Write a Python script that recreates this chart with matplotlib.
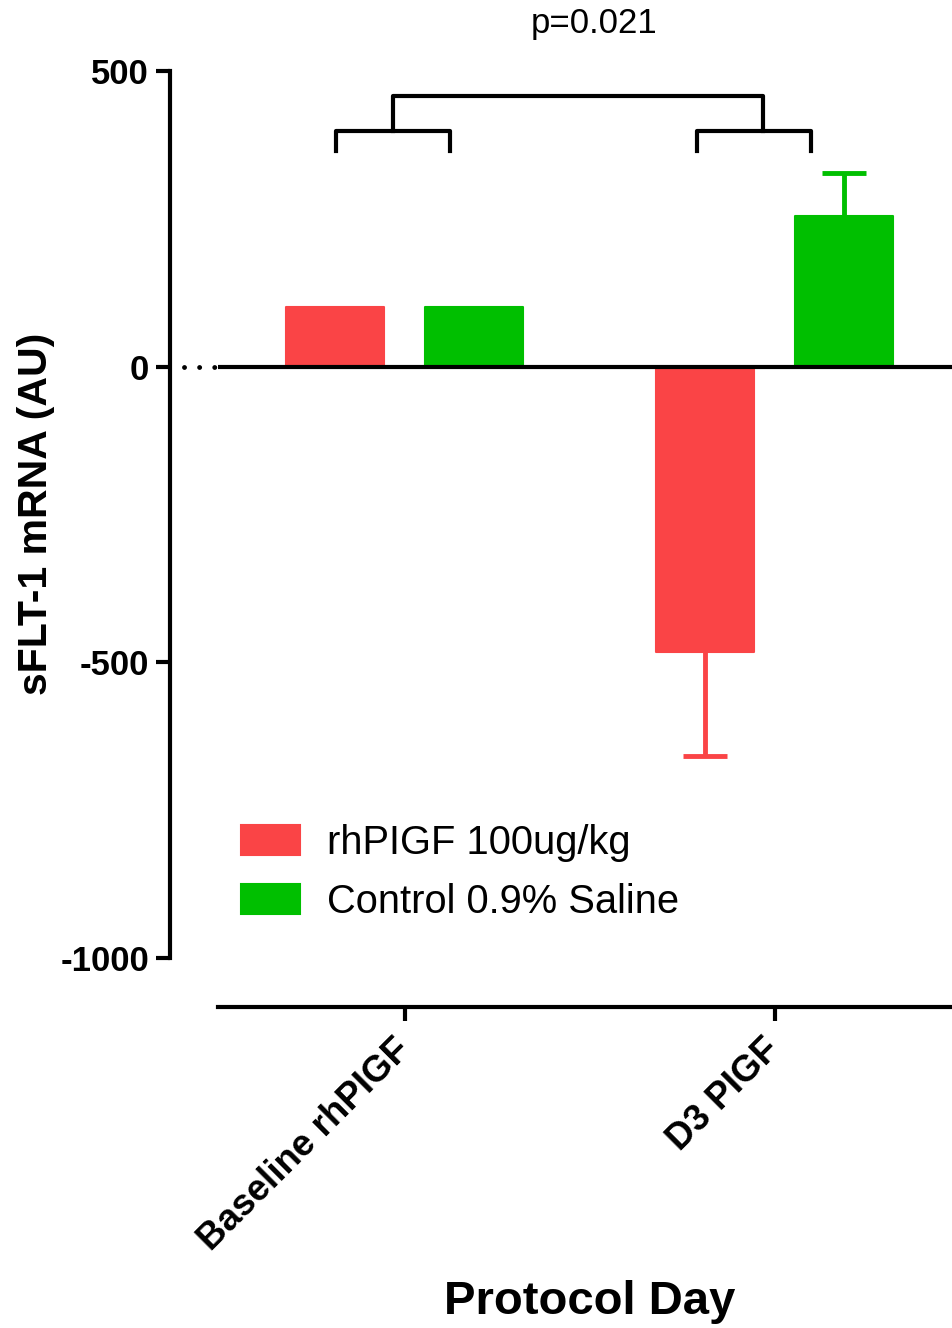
import matplotlib
matplotlib.use("Agg")
import matplotlib.pyplot as plt
import numpy as np

plt.rcParams["font.family"] = ["Liberation Sans", "DejaVu Sans"]

# Datos
dias = ["Baseline rhPIGF", "D3 PIGF"]
grupos = ["rhPIGF 100ug/kg", "Control 0.9% Saline"]
media_rhpigf = [100, -482]
media_control = [100, 255]
error_rhpigf = [0, 176]
error_control = [0, 73]
colores = ["#FA4446", "#00BF00"]

# Corchetes de comparacion (extremos en x, altura)
corchetes_bajos = [(-0.185, 0.123), (0.791, 1.098)]
altura_baja = 399
pata_baja = 364
altura_alta = 458
texto_p = "p=0.021"

fig = plt.figure(figsize=(9.53, 13.28), dpi=100)
ax = fig.add_axes([170 / 953, 1 - 1007 / 1328, 783 / 953, 1007 / 1328])
ax.set_xlim(-0.634, 1.482)
ax.set_ylim(-1083, 620)

x = np.arange(len(dias))
ancho = 0.265
desplazamiento = 0.188

barras = []
for i, (medias, errores) in enumerate([(media_rhpigf, error_rhpigf), (media_control, error_control)]):
    pos = x + (2 * i - 1) * desplazamiento
    b = ax.bar(pos, medias, width=ancho, color=colores[i], edgecolor=colores[i],
               linewidth=1.5, joinstyle="round", label=grupos[i], zorder=2)
    barras.append(b)
    for p, m, e in zip(pos, medias, errores):
        if e <= 0:
            continue
        _, tapas, _ = ax.errorbar([p], [m], yerr=[[e], [e]], fmt="none", ecolor=colores[i],
                                  elinewidth=3.5, capsize=15.5, capthick=3.5, zorder=1)
        # solo se ve el lado de la barra que sale hacia fuera
        tapas[1 if m < 0 else 0].set_visible(False)

# Linea del cero con puntos al inicio
ax.plot([-0.504, 1.482], [0, 0], color="black", lw=3, zorder=3, solid_capstyle="butt")
ax.plot([-0.595, -0.51], [0, 0], color="black", lw=3.5, zorder=3,
        linestyle=(0, (0.01, 3.1)), dash_capstyle="round")

# Corchetes
lw_c = 3
for (a, b) in corchetes_bajos:
    ax.plot([a, a, b, b], [pata_baja, altura_baja, altura_baja, pata_baja],
            color="black", lw=lw_c, solid_joinstyle="round", clip_on=False)
centros = [(a + b) / 2 for a, b in corchetes_bajos]
centros[1] = 0.969
ax.plot([centros[0], centros[0], centros[1], centros[1]],
        [altura_baja, altura_alta, altura_alta, altura_baja],
        color="black", lw=lw_c, solid_joinstyle="round", clip_on=False)
ax.text(0.512, 580, texto_p, ha="center", va="center", fontsize=25)

# Ejes
for lado in ["top", "right"]:
    ax.spines[lado].set_visible(False)
ax.spines["left"].set_bounds(-1000, 500)
ax.spines["left"].set_linewidth(3)
ax.spines["bottom"].set_bounds(-0.504, 1.474)
ax.spines["bottom"].set_linewidth(3)

ax.set_yticks([-1000, -500, 0, 500])
ax.set_yticklabels(["-1000", "-500", "0", "500"], fontsize=25, fontweight="bold")
ax.tick_params(axis="y", length=10, width=3, pad=5)
ax.set_xticks(x)
ax.set_xticklabels(dias, fontsize=26.5, fontweight="bold", rotation=45,
                   ha="right", va="center", rotation_mode="anchor")
ax.tick_params(axis="x", length=10, width=3, pad=17)

ax.set_ylabel("sFLT-1 mRNA (AU)", fontsize=29.5, fontweight="bold")
ax.yaxis.set_label_coords(-0.171, 0.4896)
ax.yaxis.label.set_va("center")
ax.set_xlabel("Protocol Day", fontsize=34, fontweight="bold")
ax.xaxis.set_label_coords(0.536, -0.293)
ax.xaxis.label.set_va("center")

ax.legend(handles=barras, loc="upper left", bbox_to_anchor=(71 / 783, 1 - 824 / 1007),
          frameon=False, fontsize=28.7, handlelength=1.47, handleheight=0.8,
          handletextpad=0.68, labelspacing=0.52, borderpad=0, borderaxespad=0)

fig.savefig("out.png", dpi=100)
